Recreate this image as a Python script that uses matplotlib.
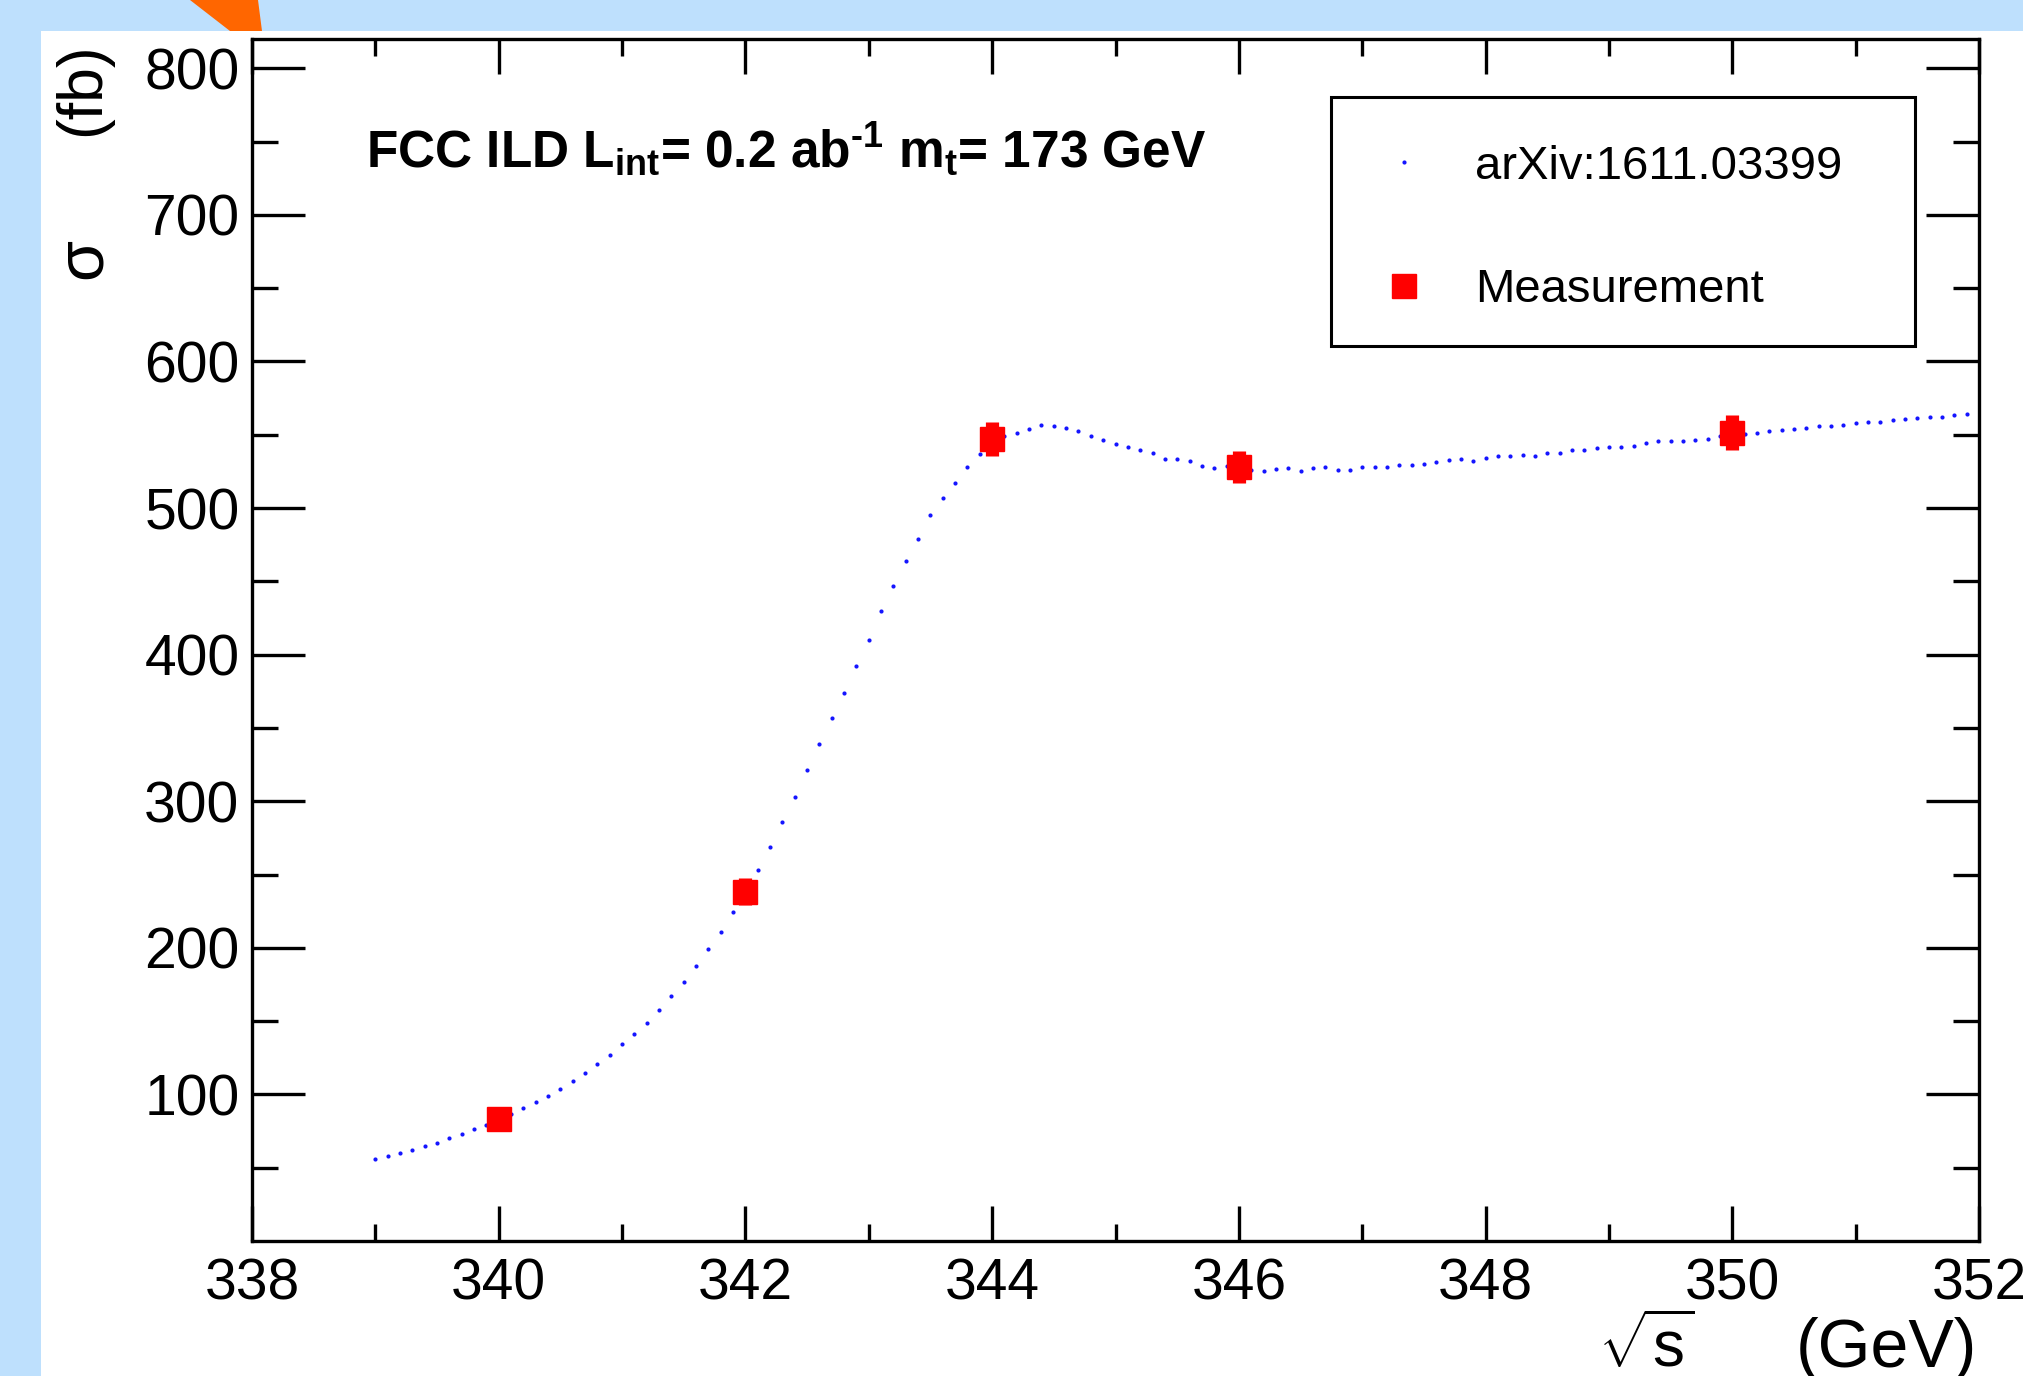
import matplotlib
matplotlib.use("Agg")
import matplotlib.pyplot as plt
from matplotlib.patches import Polygon, Rectangle
import numpy as np

plt.rcParams['font.family'] = ['Liberation Sans', 'DejaVu Sans']
plt.rcParams['mathtext.fontset'] = 'custom'
plt.rcParams['mathtext.rm'] = 'Liberation Sans'
plt.rcParams['mathtext.it'] = 'Liberation Sans:italic'
plt.rcParams['mathtext.bf'] = 'Liberation Sans:bold'

# theory curve (arXiv:1611.03399), sampled every 0.1 GeV from 339.0
theory_sigma = [
    55.7, 58.0, 59.8, 62.3, 64.8, 67.0, 70.0, 73.2, 76.1, 79.3,
    83.0, 86.5, 90.4, 94.5, 99.0, 104.0, 109.0, 114.3, 120.6, 127.2,
    134.2, 141.0, 148.7, 157.4, 166.9, 176.6, 187.3, 198.9, 210.7, 224.3,
    238.0, 253.0, 269.0, 286.0, 303.0, 321.0, 339.0, 357.0, 374.0, 392.0,
    410.0, 430.0, 446.6, 464.0, 479.0, 495.0, 507.0, 517.0, 528.0, 537.0,
    546.0, 549.0, 551.2, 553.9, 556.4, 555.7, 554.6, 552.3, 548.9, 546.6,
    543.9, 542.0, 539.8, 537.5, 533.7, 533.4, 531.8, 528.9, 527.3, 528.4,
    527.0, 526.0, 525.0, 526.6, 527.3, 525.5, 527.3, 527.7, 526.1, 526.1,
    527.7, 527.7, 527.7, 529.6, 529.6, 530.3, 531.4, 532.5, 533.4, 532.3,
    534.1, 535.2, 535.7, 536.4, 535.2, 537.9, 537.9, 539.8, 539.8, 540.9,
    541.4, 542.0, 542.5, 544.4, 545.5, 545.5, 546.0, 546.2, 547.1, 549.4,
    550.0, 550.5, 551.2, 552.3, 553.5, 553.9, 554.6, 555.7, 555.7, 556.4,
    558.0, 558.7, 558.5, 560.3, 561.0, 561.4, 561.8, 562.1, 563.2, 564.1,
]
theory_sqrts = np.round(339.0 + 0.1 * np.arange(len(theory_sigma)), 1)

meas_sqrts = [340, 342, 344, 346, 350]
meas_sigma = [83.0, 238.4, 546.8, 528.0, 551.4]
meas_err = [6.0, 9.0, 11.6, 11.2, 12.0]

W, H = 2023, 1376


def fpos(x, y):
    return (x / W, 1 - y / H)


fig = plt.figure(figsize=(W / 100, H / 100), dpi=100, facecolor='#bee0fd')

# slide decoration: orange arrow tip and white panel
fig.patches.append(Polygon([fpos(190, 0), fpos(258, 0), fpos(262, 31), fpos(230, 31)],
                           closed=True, transform=fig.transFigure,
                           facecolor='#ff6600', edgecolor='none', zorder=-3))
fig.patches.append(Rectangle(fpos(41, H), (W - 41) / W, (H - 31) / H,
                             transform=fig.transFigure, facecolor='white',
                             edgecolor='none', zorder=-2))

ax = fig.add_axes([252 / W, 1 - 1241 / H, (1979 - 252) / W, (1241 - 39) / H])
ax.set_facecolor('white')

curve, = ax.plot(theory_sqrts, theory_sigma, ls='none', marker='o', ms=3.0,
                 mec='none', color='#1515ff', zorder=2, label='arXiv:1611.03399')
eb = ax.errorbar(meas_sqrts, meas_sigma, yerr=meas_err, fmt='s', ms=17.5,
                 color='#ff0000', mec='#ff0000', elinewidth=9.5, capsize=0,
                 zorder=3, label='Measurement')

ax.set_xlim(338, 352)
ax.set_ylim(0, 820)
ax.set_xticks(np.arange(338, 353, 2))
ax.set_xticks(np.arange(339, 352, 2), minor=True)
ax.set_yticks(np.arange(100, 801, 100))
ax.set_yticks(np.arange(50, 820, 100), minor=True)

for s in ax.spines.values():
    s.set_linewidth(2.4)
ax.tick_params(axis='both', which='both', direction='in', top=True, right=True,
               width=2.4, labelsize=41)
ax.tick_params(axis='y', which='major', length=38, pad=9)
ax.tick_params(axis='y', which='minor', length=19)
ax.tick_params(axis='x', which='major', length=25, pad=12)
ax.tick_params(axis='x', which='minor', length=12.5)

fig.text(366 / W, 1 - 168 / H,
         r'FCC ILD L$_{\mathbf{int}}$= 0.2 ab$^{\mathbf{‐1}}$ m$_{\mathbf{t}}$= 173 GeV',
         fontsize=37.0, fontweight='bold', ha='left', va='baseline')

# legend box (ROOT TLegend style) with the entries placed inside it
ax.add_patch(Rectangle(fpos(1331, 346), (1915 - 1331) / W, (346 - 97) / H,
                       transform=fig.transFigure, facecolor='white',
                       edgecolor='black', linewidth=2.2, zorder=4, clip_on=False))
leg = ax.legend(handles=[curve, eb[0]], labels=['arXiv:1611.03399', 'Measurement'],
                loc='upper left', bbox_to_anchor=fpos(1368, 145),
                bbox_transform=fig.transFigure, borderaxespad=0, borderpad=0,
                fontsize=34, frameon=False, labelspacing=1.68, handlelength=1.53,
                handletextpad=0.74, markerscale=1.0)
leg.set_zorder(5)

# axis titles, ROOT style at the ends of the axes
fig.text(84 / W, 1 - 258 / H, 'σ', fontsize=48, rotation=90, ha='center', va='center')
fig.text(83 / W, 1 - 42 / H, '(fb)', fontsize=45, rotation=90, ha='center', va='top')
fig.text(1977 / W, 1 - 1367 / H, '(GeV)', fontsize=49, ha='right', va='baseline')
fig.text(1694 / W, 1 - 1367 / H, r'$\sqrt{\mathrm{s}}$', fontsize=46, ha='right', va='baseline')

fig.savefig('out.png', dpi=100, facecolor=fig.get_facecolor())
